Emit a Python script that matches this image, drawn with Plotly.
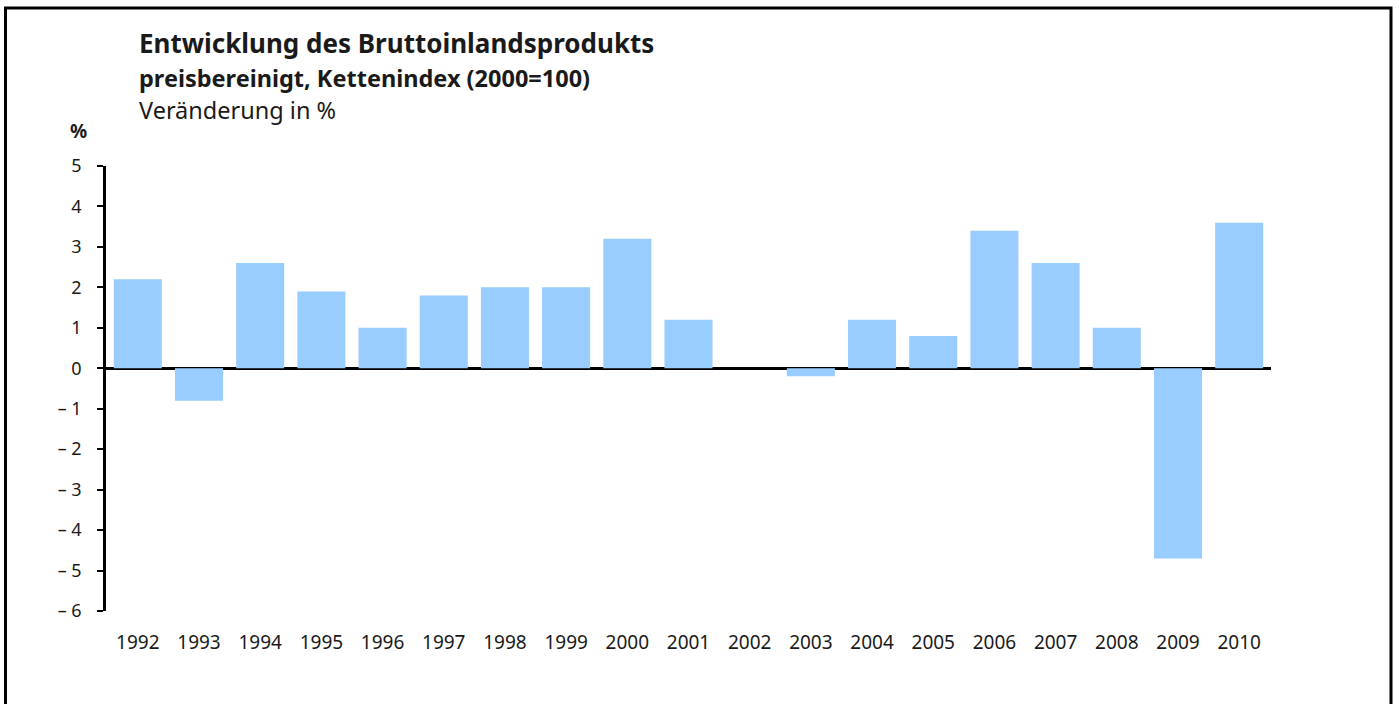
import plotly.graph_objects as go

years = ["1992", "1993", "1994", "1995", "1996", "1997", "1998", "1999", "2000", "2001",
         "2002", "2003", "2004", "2005", "2006", "2007", "2008", "2009", "2010"]
values = [2.2, -0.8, 2.6, 1.9, 1.0, 1.8, 2.0, 2.0, 3.2, 1.2,
          0.0, -0.2, 1.2, 0.8, 3.4, 2.6, 1.0, -4.7, 3.6]
y_ticks = [5, 4, 3, 2, 1, 0, -1, -2, -3, -4, -5, -6]
y_ticktext = ["5", "4", "3", "2", "1", "0", "\u2013 1", "\u2013 2", "\u2013 3", "\u2013 4", "\u2013 5", "\u2013 6"]

title = "Entwicklung des Bruttoinlandsprodukts"
subtitle = "preisbereinigt, Kettenindex (2000=100)"
subtitle2 = "Veränderung in %"
unit = "%"

FONT = "Noto Sans"
TXT = "#1a1a1a"

fig = go.Figure()
fig.add_trace(go.Bar(x=years, y=values, marker=dict(color="#99CCFF", line=dict(width=0)),
                     hoverinfo="x+y"))

# plot area: x 106..1271, y 166..611
L, R, T, B = 106, 1271, 166, 611
W, H = R - L, B - T
def px(x): return (x - L) / W
def py(y): return (B - y) / H

fig.update_layout(
    width=1399, height=704,
    margin=dict(l=L, r=1399 - R, t=T, b=704 - B),
    paper_bgcolor="white", plot_bgcolor="white",
    showlegend=False,
    bargap=0.215,
    font=dict(family=FONT, color=TXT, size=18),
    xaxis=dict(type="category", range=[-0.52, 18.52], showline=False, showgrid=False,
               zeroline=False, ticks="", ticklabelstandoff=18,
               tickfont=dict(size=19, family=FONT, color=TXT), fixedrange=True),
    yaxis=dict(range=[-6, 5], tickvals=y_ticks, ticktext=y_ticktext, showgrid=False,
               showline=True, linecolor="black", linewidth=2.5, ticks="outside",
               ticklen=6, tickwidth=2, tickcolor="black", ticklabelstandoff=12,
               zeroline=True, zerolinecolor="black", zerolinewidth=2.5,
               tickfont=dict(size=18, family=FONT, color=TXT), fixedrange=True),
    annotations=[
        dict(text="<b>" + title + "</b>", xref="paper", yref="paper", x=px(137), y=py(43),
             xanchor="left", yanchor="middle", showarrow=False, font=dict(size=26, family=FONT, color=TXT)),
        dict(text="<b>" + subtitle + "</b>", xref="paper", yref="paper", x=px(137), y=py(78),
             xanchor="left", yanchor="middle", showarrow=False, font=dict(size=23.5, family=FONT, color=TXT)),
        dict(text=subtitle2, xref="paper", yref="paper", x=px(137), y=py(110),
             xanchor="left", yanchor="middle", showarrow=False, font=dict(size=23.5, family=FONT, color=TXT)),
        dict(text="<b>" + unit + "</b>", xref="paper", yref="paper", x=px(78), y=py(131),
             xanchor="center", yanchor="middle", showarrow=False, font=dict(size=19, family=FONT, color=TXT)),
    ],
    shapes=[
        dict(type="rect", xref="paper", yref="paper", x0=px(5.5), x1=px(1391), y0=py(730), y1=py(8),
             line=dict(color="black", width=3), fillcolor="rgba(0,0,0,0)", layer="above"),
    ],
)

fig.write_html("out.html", config={"displayModeBar": False},
               post_script="document.body.style.margin='0';")
